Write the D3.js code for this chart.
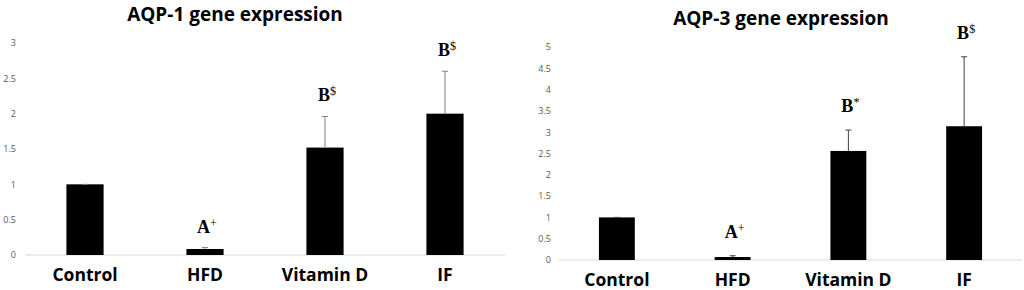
<!DOCTYPE html>
<html>
<head>
<meta charset="utf-8">
<script src="https://cdn.jsdelivr.net/npm/d3@7"></script>
<style>
  body { margin: 0; background: #fff; }
  svg { display: block; }
</style>
</head>
<body>
<div id="chart"></div>
<script>
// groups and values
const groups = ["Control", "HFD", "Vitamin D", "IF"];

const aqp1Values = [1.0, 0.085, 1.52, 2.0];
const aqp1Errors = [0.0, 0.02, 0.44, 0.6];
const aqp1Letters = ["", "A", "B", "B"];
const aqp1Sups = ["", "+", "$", "$"];
const aqp1Ticks = [0, 0.5, 1, 1.5, 2, 2.5, 3];

const aqp3Values = [1.0, 0.07, 2.56, 3.14];
const aqp3Errors = [0.0, 0.03, 0.49, 1.63];
const aqp3Letters = ["", "A", "B", "B"];
const aqp3Sups = ["", "+", "*", "$"];
const aqp3Ticks = [0, 0.5, 1, 1.5, 2, 2.5, 3, 3.5, 4, 4.5, 5];

const width = 1024, height = 290;

const svg = d3.select("#chart")
  .append("svg")
    .attr("width", width)
    .attr("height", height);

function drawPanel(p) {
  const x = d3.scaleBand()
    .domain(groups)
    .range([p.left, p.right])
    .paddingInner(0.69)
    .paddingOuter(0.345);

  const y = d3.scaleLinear()
    .domain([0, d3.max(p.ticks)])
    .range([p.bottom, p.top]);

  const g = svg.append("g");

  // title
  g.append("text")
    .attr("x", p.titleX)
    .attr("y", p.titleY)
    .attr("text-anchor", "middle")
    .style("font-family", "'Open Sans', sans-serif")
    .style("font-weight", "bold")
    .style("font-size", "19px")
    .style("fill", "#000")
    .text(p.title);

  // y axis labels, no line
  const yAxis = g.append("g")
    .attr("transform", `translate(${p.tickX},0)`)
    .call(d3.axisLeft(y).tickValues(p.ticks).tickSize(0).tickPadding(0)
      .tickFormat(d3.format("~g")));
  yAxis.select(".domain").remove();
  yAxis.selectAll("text")
    .style("font-family", "'Open Sans', sans-serif")
    .style("font-size", "9px")
    .style("fill", "#595959");

  // baseline
  g.append("line")
    .attr("x1", p.left).attr("x2", p.right)
    .attr("y1", y(0)).attr("y2", y(0))
    .attr("stroke", "#d9d9d9")
    .attr("stroke-width", 1);

  // bars
  g.selectAll(".bar")
    .data(groups)
    .join("rect")
      .attr("class", "bar")
      .attr("x", d => x(d))
      .attr("width", x.bandwidth())
      .attr("y", (d, i) => y(p.values[i]))
      .attr("height", (d, i) => y(0) - y(p.values[i]))
      .attr("fill", "#000");

  // error bars
  const eb = g.selectAll(".err")
    .data(groups)
    .join("g")
      .attr("class", "err")
      .attr("transform", d => `translate(${x(d) + x.bandwidth() / 2},0)`);
  eb.append("line")
    .attr("y1", (d, i) => y(p.values[i]))
    .attr("y2", (d, i) => y(p.values[i] + p.errors[i]))
    .attr("stroke", p.errColor);
  eb.append("line")
    .attr("x1", -3).attr("x2", 3)
    .attr("y1", (d, i) => y(p.values[i] + p.errors[i]))
    .attr("y2", (d, i) => y(p.values[i] + p.errors[i]))
    .attr("stroke", p.errColor);

  // significance letters
  const lab = g.selectAll(".sig")
    .data(groups.filter((d, i) => p.letters[i] !== ""))
    .join("text")
      .attr("class", "sig")
      .attr("text-anchor", "middle")
      .attr("x", d => x(d) + x.bandwidth() / 2 + 2)
      .attr("y", d => {
        const i = groups.indexOf(d);
        return y(p.values[i] + p.errors[i]) - p.labelGap;
      })
      .style("font-family", "'Liberation Serif', 'Times New Roman', serif")
      .style("font-weight", "bold")
      .style("font-size", "18px")
      .style("fill", "#000");
  lab.append("tspan").text(d => p.letters[groups.indexOf(d)]);
  lab.append("tspan")
    .attr("dy", -6)
    .style("font-size", "12px")
    .style("font-weight", "normal")
    .text(d => p.sups[groups.indexOf(d)]);

  // category labels
  g.selectAll(".cat")
    .data(groups)
    .join("text")
      .attr("class", "cat")
      .attr("x", d => x(d) + x.bandwidth() / 2)
      .attr("y", p.catY)
      .attr("text-anchor", "middle")
      .style("font-family", "'Open Sans', sans-serif")
      .style("font-weight", "bold")
      .style("font-size", "17.5px")
      .style("fill", "#000")
      .text(d => d);
}

drawPanel({
  title: "AQP-1 gene expression", titleX: 235, titleY: 21,
  values: aqp1Values, errors: aqp1Errors, letters: aqp1Letters, sups: aqp1Sups,
  ticks: aqp1Ticks,
  left: 25, right: 505, top: 43, bottom: 255, tickX: 16,
  errColor: "#808080", labelGap: 15, catY: 281
});

drawPanel({
  title: "AQP-3 gene expression", titleX: 781, titleY: 25,
  values: aqp3Values, errors: aqp3Errors, letters: aqp3Letters, sups: aqp3Sups,
  ticks: aqp3Ticks,
  left: 559, right: 1022, top: 47, bottom: 260, tickX: 551,
  errColor: "#404040", labelGap: 18, catY: 286
});
</script>
</body>
</html>
